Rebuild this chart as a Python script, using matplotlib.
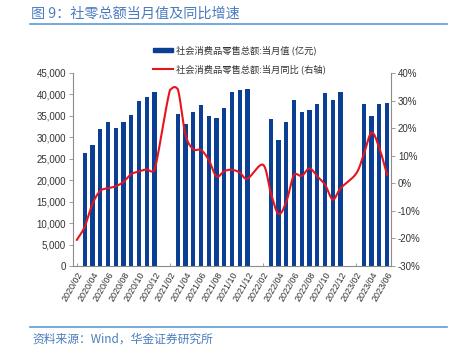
import numpy as np
import matplotlib
matplotlib.use("Agg")
import matplotlib.pyplot as plt
from matplotlib.ticker import FuncFormatter

# ── data ──────────────────────────────────────────────────────────────
months = [f"{y}/{m:02d}" for y in range(2020, 2024) for m in range(1, 13)]
months = months[1:42]  # 2020/02 .. 2023/06

# monthly retail sales (100m yuan); Jan/Feb have no monthly bar
sales = {
    "2020/03": 26450, "2020/04": 28178, "2020/05": 31973, "2020/06": 33526,
    "2020/07": 32203, "2020/08": 33571, "2020/09": 35295, "2020/10": 38576,
    "2020/11": 39514, "2020/12": 40566,
    "2021/03": 35484, "2021/04": 33153, "2021/05": 35945, "2021/06": 37586,
    "2021/07": 34925, "2021/08": 34395, "2021/09": 36833, "2021/10": 40454,
    "2021/11": 41043, "2021/12": 41269,
    "2022/03": 34233, "2022/04": 29483, "2022/05": 33547, "2022/06": 38742,
    "2022/07": 35870, "2022/08": 36258, "2022/09": 37745, "2022/10": 40271,
    "2022/11": 38615, "2022/12": 40542,
    "2023/03": 37855, "2023/04": 34910, "2023/05": 37803, "2023/06": 38000,
}

# year-on-year growth (%)
yoy = {
    "2020/02": -20.5, "2020/03": -15.8, "2020/04": -7.5, "2020/05": -2.8,
    "2020/06": -1.8, "2020/07": -1.1, "2020/08": 0.5, "2020/09": 3.3,
    "2020/10": 4.3, "2020/11": 5.0, "2020/12": 4.6,
    "2021/02": 33.8, "2021/03": 34.2, "2021/04": 17.7, "2021/05": 12.4,
    "2021/06": 12.1, "2021/07": 8.5, "2021/08": 2.5, "2021/09": 4.4,
    "2021/10": 4.9, "2021/11": 3.9, "2021/12": 1.7,
    "2022/02": 6.7, "2022/03": -3.5, "2022/04": -11.1, "2022/05": -6.7,
    "2022/06": 3.1, "2022/07": 2.7, "2022/08": 5.4, "2022/09": 2.5,
    "2022/10": -0.5, "2022/11": -5.9, "2022/12": -1.8,
    "2023/02": 3.5, "2023/03": 10.6, "2023/04": 18.4, "2023/05": 12.7,
    "2023/06": 3.1,
}

bar_label = "社会消费品零售总额:当月值 (亿元)"
line_label = "社会消费品零售总额:当月同比 (右轴)"
title = "图 9：社零总额当月值及同比增速"
source = "资料来源：Wind，华金证券研究所"

BLUE_BAR = "#0B3F94"
RED = "#E8141C"
TITLE_BLUE = "#4A7DBE"
RULE_BLUE = "#5B9BD5"
GRAY = "#8C8C8C"
NUM_FONT = ["Liberation Sans", "Noto Sans CJK SC"]
CJK_FONT = ["Noto Sans CJK SC", "DejaVu Sans"]


def smooth(xs, ys, n=24, slack=1.0):
    """Bezier smoothing like Excel's smoothed line, with control points
    clamped so the curve doesn't overshoot much between two points."""
    xs, ys = np.asarray(xs, float), np.asarray(ys, float)
    px = np.concatenate([[2 * xs[0] - xs[1]], xs, [2 * xs[-1] - xs[-2]]])
    py = np.concatenate([[2 * ys[0] - ys[1]], ys, [2 * ys[-1] - ys[-2]]])
    outx, outy = [], []
    t = np.linspace(0, 1, n)
    for i in range(1, len(px) - 2):
        p0, p1, p2, p3 = [np.array([px[j], py[j]]) for j in range(i - 1, i + 3)]
        c1 = p1 + (p2 - p0) / 6
        c2 = p2 - (p3 - p1) / 6
        lo, hi = min(p1[1], p2[1]) - slack, max(p1[1], p2[1]) + slack
        c1[1] = np.clip(c1[1], lo, hi)
        c2[1] = np.clip(c2[1], lo, hi)
        pts = ((1 - t) ** 3)[:, None] * p1 + (3 * (1 - t) ** 2 * t)[:, None] * c1 \
            + (3 * (1 - t) * t ** 2)[:, None] * c2 + (t ** 3)[:, None] * p2
        outx.extend(pts[:, 0])
        outy.extend(pts[:, 1])
    return outx, outy


plt.rcParams["font.family"] = NUM_FONT

fig = plt.figure(figsize=(4.51, 3.51), dpi=100)
ax = fig.add_axes([73 / 451, 85 / 351, 318 / 451, 193 / 351])
ax2 = ax.twinx()

x = np.arange(len(months))
bx = [i for i, m in enumerate(months) if m in sales]
bv = [sales[months[i]] for i in bx]
ax.bar(bx, bv, width=0.55, color=BLUE_BAR, zorder=2)

lx = [i for i, m in enumerate(months) if m in yoy]
lv = [yoy[months[i]] for i in lx]
sx, sy = smooth(lx, lv)
ax2.plot(sx, sy, color=RED, lw=1.5, zorder=3)

ax.set_xlim(-0.5, len(months) - 0.5)
ax.set_ylim(0, 45000)
ax.set_yticks(np.arange(0, 45001, 5000))
ax.yaxis.set_major_formatter(FuncFormatter(lambda v, p: f"{int(v):,}"))
ax2.set_ylim(-30, 40)
ax2.set_yticks(np.arange(-30, 41, 10))
ax2.yaxis.set_major_formatter(FuncFormatter(lambda v, p: f"{int(v)}%"))

ax.set_xticks(x[::2])
ax.set_xticklabels(months[::2], rotation=60, ha="right", rotation_mode="anchor",
                   fontsize=6.5, color="#333333")

for a in (ax, ax2):
    for s in a.spines.values():
        s.set_visible(False)
ax.spines["left"].set_visible(True)
ax.spines["bottom"].set_visible(True)
ax2.spines["right"].set_visible(True)
for s in (ax.spines["left"], ax.spines["bottom"], ax2.spines["right"]):
    s.set_color(GRAY)
    s.set_linewidth(0.8)

ax.tick_params(axis="y", labelsize=7, colors="#333333", length=3, width=0.6,
               color=GRAY, pad=2)
ax2.tick_params(axis="y", labelsize=7, colors="#333333", length=3, width=0.6,
                color=GRAY, pad=2)
ax.tick_params(axis="x", direction="in", length=2, width=0.6, color=GRAY, pad=3)

# legend, stacked at the top centre
fig.patches.append(plt.Rectangle((153 / 451, 1 - 52 / 351), 20 / 451, 4 / 351,
                                 transform=fig.transFigure, color=BLUE_BAR))
fig.text(176 / 451, 1 - 50 / 351, bar_label, fontsize=6.7, family=CJK_FONT,
         va="center", color="#333333")
fig.lines.append(plt.Line2D([153 / 451, 173 / 451], [1 - 69 / 351, 1 - 69 / 351],
                            transform=fig.transFigure, color=RED, lw=1.5))
fig.text(176 / 451, 1 - 69 / 351, line_label, fontsize=6.7, family=CJK_FONT,
         va="center", color="#333333")

# header and footer
fig.text(31 / 451, 1 - 14 / 351, title, fontsize=10.2, family=CJK_FONT,
         fontweight="light", color=TITLE_BLUE, va="center")
fig.lines.append(plt.Line2D([30 / 451, 447 / 451], [1 - 24 / 351, 1 - 24 / 351],
                            transform=fig.transFigure, color=RULE_BLUE, lw=1.2))
fig.lines.append(plt.Line2D([30 / 451, 447 / 451], [1 - 326.5 / 351, 1 - 326.5 / 351],
                            transform=fig.transFigure, color=RULE_BLUE, lw=1.2))
fig.text(32 / 451, 1 - 339 / 351, source, fontsize=8.5, family=CJK_FONT,
         style="italic", color=TITLE_BLUE, va="center")

fig.savefig("out.png", dpi=100)
